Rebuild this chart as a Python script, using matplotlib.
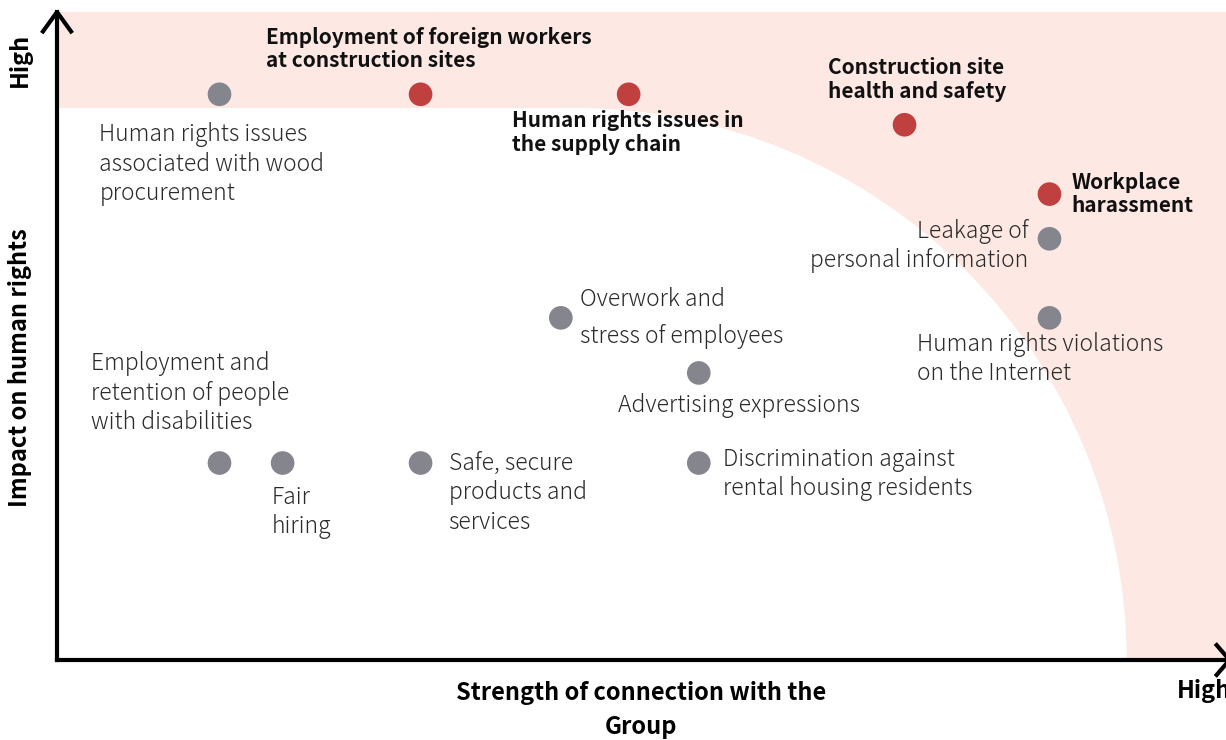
import matplotlib
matplotlib.use('Agg')
from matplotlib import pyplot as plt
from matplotlib.patches import Ellipse, Rectangle

plt.rcParams['font.family'] = ['Noto Sans CJK JP', 'DejaVu Sans']

# issues: strength of connection (x) vs impact on human rights (y), 0..10 scale
labels = [
    'Human rights issues\nassociated with wood\nprocurement',
    'Employment of foreign workers\nat construction sites',
    'Human rights issues in\nthe supply chain',
    'Construction site\nhealth and safety',
    'Workplace\nharassment',
    'Leakage of\npersonal information',
    'Human rights violations\non the Internet',
    'Overwork and\nstress of employees',
    'Advertising expressions',
    'Discrimination against\nrental housing residents',
    'Employment and\nretention of people\nwith disabilities',
    'Fair\nhiring',
    'Safe, secure\nproducts and\nservices',
]
strength = [1.39, 3.11, 4.89, 7.25, 8.49, 8.49, 8.49, 4.31, 5.49, 5.49, 1.39, 1.93, 3.11]
impact = [8.73, 8.73, 8.73, 8.26, 7.19, 6.50, 5.28, 5.28, 4.43, 3.04, 3.04, 3.04, 3.04]
priority = [False, True, True, True, True, False, False, False, False, False, False, False, False]

# label placement: offset from the dot in pixels (dx right, dy down), alignment
offsets = [(-120, 28), (-155, -23), (-117, 16), (-77, -23), (22, 0), (-21, 7),
           (-132, 14), (19, 0), (-81, 33), (24, 11), (-128, -28), (-11, 22), (28, -12)]
aligns = [('left', 'top'), ('left', 'bottom'), ('left', 'top'), ('left', 'bottom'),
          ('left', 'center'), ('right', 'center'), ('left', 'top'), ('left', 'center'),
          ('left', 'center'), ('left', 'center'), ('left', 'bottom'), ('left', 'top'),
          ('left', 'top')]

pink = '#fde8e3'
red = '#c04040'
grey = '#85858e'

fig = plt.figure(figsize=(12.26, 7.40), dpi=100)
ax = fig.add_axes([57 / 1226, 80 / 740, 1169 / 1226, 648 / 740])
ax.set_xlim(0, 10)
ax.set_ylim(0, 10)
ax.axis('off')

# shaded high-priority zone: everything outside the quarter circle
ax.add_patch(Rectangle((0, 0), 10, 10, color=pink, lw=0, zorder=0))
cx = 4.43
ax.add_patch(Rectangle((0, 0), cx, 8.52, color='white', lw=0, zorder=1))
ax.add_patch(Ellipse((cx, 0), 2 * 4.72, 2 * 8.52, color='white', lw=0, zorder=1))

# axes with arrows
ax.plot([0, 0], [0, 10], color='black', lw=3, clip_on=False, zorder=3)
ax.plot([0, 10.05], [0, 0], color='black', lw=3, clip_on=False, zorder=3)
ax.plot([-0.12, 0, 0.12], [9.7, 10, 9.7], color='black', lw=3, clip_on=False, zorder=3)
ax.plot([9.92, 10.03, 9.92], [0.23, 0, -0.23], color='black', lw=3, clip_on=False, zorder=3)

colors = [red if p else grey for p in priority]
ax.scatter(strength, impact, s=290, c=colors, edgecolors='none', zorder=4)

for i, txt in enumerate(labels):
    dx, dy = offsets[i]
    ha, va = aligns[i]
    if priority[i]:
        ax.annotate(txt, xy=(strength[i], impact[i]), xytext=(dx * 0.72, -dy * 0.72),
                    textcoords='offset points', ha=ha, va=va, fontsize=15,
                    fontweight='bold', color='#111111', linespacing=1.15, zorder=5)
    else:
        ls = 1.66 if txt.startswith('Overwork') else 1.225
        ax.annotate(txt, xy=(strength[i], impact[i]), xytext=(dx * 0.72, -dy * 0.72),
                    textcoords='offset points', ha=ha, va=va, fontsize=16.5,
                    fontweight='light', color='#2a2a2a', linespacing=ls, zorder=5)

axis_font = dict(fontsize=17, fontweight='bold')
fig.text(20 / 1226, 1 - 60 / 740, 'High', rotation=90, ha='center', va='center', **axis_font)
fig.text(20 / 1226, 1 - 368 / 740, 'Impact on human rights', rotation=90, ha='center',
         va='center', **axis_font)
fig.text(641 / 1226, 1 - 710 / 740, 'Strength of connection with the\nGroup', ha='center',
         va='center', linespacing=1.55, **axis_font)
fig.text(1177 / 1226, 1 - 691 / 740, 'High', ha='left', va='center', **axis_font)

fig.savefig('out.png', dpi=100)
